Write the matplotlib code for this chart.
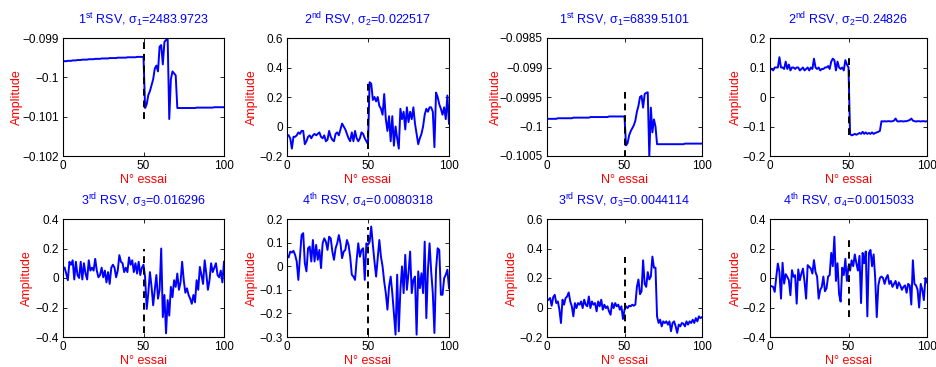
import numpy as np
import matplotlib
matplotlib.use("Agg")
import matplotlib.pyplot as plt
from matplotlib.ticker import FixedLocator, FuncFormatter

plt.rcParams["font.family"] = ["Liberation Sans", "DejaVu Sans"]
plt.rcParams["mathtext.fontset"] = "custom"
plt.rcParams["mathtext.rm"] = "Liberation Sans"
plt.rcParams["mathtext.it"] = "Liberation Sans:italic"
plt.rcParams["mathtext.bf"] = "Liberation Sans:bold"

trials = np.arange(1, 101)

# left block: first experiment
rsv1_left = [
    -0.09959, -0.09959, -0.09958, -0.09958, -0.09958, -0.09957, -0.09957, -0.09957, -0.09956, -0.09956,
    -0.09956, -0.09955, -0.09955, -0.09955, -0.09955, -0.09954, -0.09954, -0.09954, -0.09954, -0.09953,
    -0.09953, -0.09953, -0.09953, -0.09952, -0.09952, -0.09952, -0.09952, -0.09952, -0.09951, -0.09951,
    -0.09951, -0.09951, -0.09951, -0.09950, -0.09950, -0.09950, -0.09950, -0.09950, -0.09950, -0.09949,
    -0.09949, -0.09949, -0.09949, -0.09949, -0.09949, -0.09948, -0.09948, -0.09948, -0.09948, -0.09948,
    -0.10078, -0.10068, -0.10045, -0.10035, -0.10020, -0.10005, -0.09978, -0.09970, -0.09985, -0.09922,
    -0.09918, -0.09967, -0.09910, -0.09905, -0.09900, -0.10106, -0.10005, -0.09985, -0.09990, -0.09995,
    -0.10078, -0.10078, -0.10078, -0.10078, -0.10078, -0.10078, -0.10078, -0.10078, -0.10078, -0.10078,
    -0.10078, -0.10078, -0.10077, -0.10077, -0.10077, -0.10077, -0.10077, -0.10077, -0.10077, -0.10077,
    -0.10077, -0.10077, -0.10077, -0.10076, -0.10076, -0.10076, -0.10076, -0.10076, -0.10076, -0.10076,
]
rsv2_left = [
    -0.06, -0.08, -0.15, -0.07, -0.07, -0.06, -0.04, -0.05, -0.03, -0.03,
    -0.12, -0.10, -0.07, -0.06, -0.08, -0.06, -0.05, -0.06, -0.05, -0.04,
    -0.07, -0.08, -0.06, -0.10, -0.09, -0.03, -0.07, -0.09, -0.10, -0.05,
    -0.04, -0.06, -0.02, 0.02, 0.00, -0.02, -0.05, -0.08, -0.10, -0.04,
    -0.10, -0.03, -0.08, -0.10, -0.08, -0.04, -0.05, -0.08, -0.10, -0.12,
    0.30, 0.29, 0.18, 0.20, 0.17, 0.20, 0.14, 0.12, 0.08, 0.22,
    0.05, -0.03, 0.07, -0.10, 0.07, -0.13, 0.00, -0.08, -0.15, 0.12,
    0.05, 0.10, -0.02, 0.13, 0.03, 0.10, 0.05, 0.13, 0.02, -0.05,
    -0.12, -0.08, -0.05, 0.00, 0.08, 0.12, 0.10, 0.13, 0.13, 0.10,
    -0.14, 0.23, 0.20, 0.15, 0.12, 0.08, 0.13, 0.05, 0.21, 0.02,
]
rsv3_left = [
    0.07, 0.03, -0.015, 0.11, 0.09, 0.12, -0.01, 0.11, 0.02, 0.00,
    0.11, -0.01, 0.10, 0.03, -0.01, 0.12, 0.05, 0.07, 0.05, 0.13,
    0.05, 0.005, 0.02, 0.07, 0.005, 0.05, -0.03, 0.04, -0.04, 0.07,
    0.09, 0.07, 0.005, 0.05, 0.155, 0.11, 0.10, 0.04, 0.07, 0.04,
    0.14, 0.09, 0.12, 0.04, 0.10, 0.03, 0.11, 0.02, 0.07, 0.09,
    0.005, -0.21, -0.10, 0.04, -0.06, -0.185, -0.08, 0.02, -0.14, -0.08,
    0.20, -0.265, -0.115, -0.375, -0.15, -0.255, -0.06, -0.13, -0.015, -0.06,
    0.03, -0.08, -0.03, 0.11, -0.015, -0.10, -0.07, -0.115, -0.14, -0.175,
    -0.115, -0.165, -0.015, -0.08, 0.075, 0.02, -0.04, 0.12, 0.03, -0.08,
    -0.015, 0.10, 0.04, 0.07, 0.10, 0.02, 0.005, 0.05, -0.03, 0.11,
]
rsv4_left = [
    0.038, 0.062, 0.058, 0.065, 0.048, 0.020, -0.058, 0.040, 0.132, 0.140,
    0.013, -0.022, 0.076, 0.083, 0.020, 0.111, 0.020, 0.090, 0.027, 0.069,
    -0.008, 0.097, 0.118, 0.104, 0.069, 0.125, 0.118, 0.062, 0.027, 0.076,
    0.097, 0.132, 0.097, 0.034, 0.062, 0.069, 0.111, 0.090, 0.040, -0.036,
    -0.044, -0.058, 0.027, 0.097, 0.040, 0.069, 0.076, -0.058, 0.097, 0.090,
    0.104, 0.168, 0.090, 0.020, -0.044, 0.034, 0.111, 0.040, -0.001, -0.065,
    -0.114, -0.184, -0.086, -0.044, -0.114, -0.200, -0.290, -0.036, -0.276, -0.100,
    -0.001, -0.114, 0.048, -0.100, -0.030, 0.062, -0.114, -0.058, -0.044, -0.290,
    -0.022, -0.093, -0.030, -0.114, 0.104, -0.220, -0.015, 0.097, -0.022, -0.114,
    -0.283, -0.015, 0.076, 0.069, -0.121, -0.121, -0.051, -0.036, -0.015, -0.093,
]

# right block: second experiment
rsv1_right = [
    -0.09987, -0.09987, -0.09987, -0.09987, -0.09987, -0.09987, -0.09986, -0.09986, -0.09986, -0.09986,
    -0.09986, -0.09986, -0.09986, -0.09986, -0.09986, -0.09986, -0.09985, -0.09985, -0.09985, -0.09985,
    -0.09985, -0.09985, -0.09985, -0.09985, -0.09985, -0.09985, -0.09985, -0.09984, -0.09984, -0.09984,
    -0.09984, -0.09984, -0.09984, -0.09984, -0.09984, -0.09984, -0.09984, -0.09984, -0.09984, -0.09983,
    -0.09983, -0.09983, -0.09983, -0.09983, -0.09983, -0.09983, -0.09983, -0.09983, -0.09983, -0.09983,
    -0.10032, -0.10028, -0.10015, -0.10008, -0.10003, -0.09998, -0.09990, -0.09975, -0.09965, -0.09950,
    -0.09948, -0.09968, -0.09945, -0.09943, -0.09942, -0.10052, -0.09968, -0.10010, -0.09988, -0.10000,
    -0.10030, -0.10030, -0.10030, -0.10030, -0.10030, -0.10030, -0.10030, -0.10030, -0.10030, -0.10030,
    -0.10030, -0.10030, -0.10030, -0.10030, -0.10030, -0.10030, -0.10030, -0.10030, -0.10029, -0.10029,
    -0.10029, -0.10029, -0.10029, -0.10029, -0.10029, -0.10029, -0.10029, -0.10029, -0.10029, -0.10029,
]
rsv2_right = [
    0.095, 0.090, 0.100, 0.100, 0.100, 0.135, 0.100, 0.100, 0.095, 0.120,
    0.095, 0.110, 0.090, 0.100, 0.100, 0.095, 0.100, 0.100, 0.090, 0.095,
    0.100, 0.090, 0.095, 0.100, 0.090, 0.100, 0.095, 0.130, 0.100, 0.095,
    0.100, 0.090, 0.095, 0.095, 0.100, 0.100, 0.105, 0.095, 0.120, 0.130,
    0.125, 0.090, 0.120, 0.100, 0.095, 0.100, 0.090, 0.125, 0.110, 0.100,
    -0.125, -0.130, -0.128, -0.125, -0.128, -0.125, -0.122, -0.125, -0.118, -0.125,
    -0.120, -0.125, -0.122, -0.125, -0.120, -0.125, -0.122, -0.120, -0.118, -0.115,
    -0.082, -0.083, -0.082, -0.083, -0.082, -0.082, -0.083, -0.082, -0.080, -0.073,
    -0.082, -0.083, -0.082, -0.082, -0.083, -0.082, -0.082, -0.080, -0.078, -0.073,
    -0.080, -0.082, -0.083, -0.082, -0.082, -0.083, -0.082, -0.082, -0.083, -0.082,
]
rsv3_right = [
    0.053, 0.064, 0.012, 0.070, 0.086, 0.030, 0.041, -0.015, -0.105, 0.053,
    0.019, 0.064, 0.075, 0.102, 0.041, 0.008, -0.060, 0.030, -0.004, 0.030,
    0.019, 0.041, -0.004, 0.053, 0.019, 0.008, 0.075, -0.004, 0.041, 0.019,
    0.030, -0.026, 0.041, 0.008, 0.053, -0.015, 0.019, -0.004, 0.008, -0.026,
    -0.049, 0.030, -0.004, 0.030, 0.008, 0.019, -0.015, 0.008, -0.078, -0.015,
    0.008, -0.004, 0.012, 0.008, 0.019, 0.012, 0.020, 0.140, 0.190, 0.090,
    0.110, 0.320, 0.160, 0.140, 0.240, 0.190, 0.210, 0.345, 0.270, 0.270,
    -0.060, -0.105, -0.083, -0.128, -0.094, -0.105, -0.094, -0.116, -0.094, -0.161,
    -0.105, -0.094, -0.128, -0.172, -0.116, -0.128, -0.105, -0.110, -0.128, -0.094,
    -0.116, -0.094, -0.105, -0.083, -0.105, -0.072, -0.094, -0.060, -0.072, -0.065,
]
rsv4_right = [
    -0.056, -0.060, -0.094, 0.008, 0.098, 0.042, -0.140, 0.103, -0.038, 0.026,
    0.008, -0.015, -0.117, 0.053, 0.008, 0.019, -0.174, 0.058, -0.015, 0.030,
    0.064, -0.026, -0.140, 0.087, 0.076, 0.064, 0.030, 0.121, 0.040, 0.010,
    -0.140, -0.080, -0.060, 0.010, -0.090, -0.070, 0.010, 0.020, 0.170, 0.080,
    0.280, -0.020, 0.100, -0.110, -0.160, 0.070, 0.020, 0.130, -0.020, 0.080,
    0.050, 0.120, 0.080, 0.160, 0.100, 0.050, 0.150, -0.170, 0.170, 0.100,
    0.180, -0.260, 0.170, 0.190, 0.080, 0.160, 0.000, -0.265, -0.050, 0.000,
    0.010, 0.000, -0.040, 0.000, 0.020, -0.040, -0.020, -0.060, -0.040, -0.020,
    -0.070, -0.030, -0.050, -0.080, -0.060, -0.050, -0.100, -0.040, -0.050, -0.180,
    0.120, -0.040, -0.050, -0.080, -0.200, -0.040, -0.080, -0.150, 0.000, -0.030,
]

titles = [
    r"1$^{\mathrm{st}}$ RSV, $\mathrm{\sigma_1}$=2483.9723",
    r"2$^{\mathrm{nd}}$ RSV, $\mathrm{\sigma_2}$=0.022517",
    r"1$^{\mathrm{st}}$ RSV, $\mathrm{\sigma_1}$=6839.5101",
    r"2$^{\mathrm{nd}}$ RSV, $\mathrm{\sigma_2}$=0.24826",
    r"3$^{\mathrm{rd}}$ RSV, $\mathrm{\sigma_3}$=0.016296",
    r"4$^{\mathrm{th}}$ RSV, $\mathrm{\sigma_4}$=0.0080318",
    r"3$^{\mathrm{rd}}$ RSV, $\mathrm{\sigma_3}$=0.0044114",
    r"4$^{\mathrm{th}}$ RSV, $\mathrm{\sigma_4}$=0.0015033",
]
series = [rsv1_left, rsv2_left, rsv1_right, rsv2_right,
          rsv3_left, rsv4_left, rsv3_right, rsv4_right]
yticks = [
    [-0.102, -0.101, -0.1, -0.099],
    [-0.2, 0, 0.2, 0.4, 0.6],
    [-0.1005, -0.1, -0.0995, -0.099, -0.0985],
    [-0.2, -0.1, 0, 0.1, 0.2],
    [-0.4, -0.2, 0, 0.2, 0.4],
    [-0.3, -0.2, -0.1, 0, 0.1, 0.2],
    [-0.2, 0, 0.2, 0.4, 0.6],
    [-0.4, -0.2, 0, 0.2, 0.4],
]
xticks = [0, 50, 100]
split_trial = 50

W, H = 936, 367
# pixel boxes of the axes (left, right) and (top, bottom)
cols_px = [(63, 224), (287, 449), (547, 702), (770, 927)]
rows_px = [(38, 156), (219, 337)]
# right edge of the "Amplitude" label, pixels left of each axes
ylabel_gap = [40, 29, 45, 28, 30, 29, 29, 28]


def fmt(v, _pos=None):
    s = f"{round(v, 6):g}"
    return s.replace("-", "\u2212")


fig = plt.figure(figsize=(W / 100, H / 100), dpi=100)

for k, (data, title, yt) in enumerate(zip(series, titles, yticks)):
    r, c = divmod(k, 4)
    (x0, x1), (y0, y1) = cols_px[c], rows_px[r]
    ax = fig.add_axes([x0 / W, 1 - y1 / H, (x1 - x0) / W, (y1 - y0) / H])
    vals = np.array(data)
    ax.plot(trials, vals, color="#0000ff", lw=1.4)
    ax.vlines(split_trial, vals.min(), vals.max(), colors="black",
              linestyles=(0, (3.5, 2.5)), lw=1.4, zorder=3)
    ax.set_xlim(0, 100)
    ax.set_ylim(yt[0], yt[-1])
    ax.xaxis.set_major_locator(FixedLocator(xticks))
    ax.yaxis.set_major_locator(FixedLocator(yt))
    ax.xaxis.set_major_formatter(FuncFormatter(fmt))
    ax.yaxis.set_major_formatter(FuncFormatter(fmt))
    ax.tick_params(direction="in", top=True, right=True, length=3,
                   width=0.6, labelsize=8.5, pad=3)
    for sp in ax.spines.values():
        sp.set_linewidth(0.8)
    ax.set_title(title, color="#0000ff", fontsize=9, pad=10)
    ax.set_xlabel("N° essai", color="red", fontsize=9, labelpad=1)
    ax.set_ylabel("Amplitude", color="red", fontsize=9)
    ax.yaxis.set_label_coords(-ylabel_gap[k] / (x1 - x0), 0.5)

fig.savefig("out.png", dpi=100)
